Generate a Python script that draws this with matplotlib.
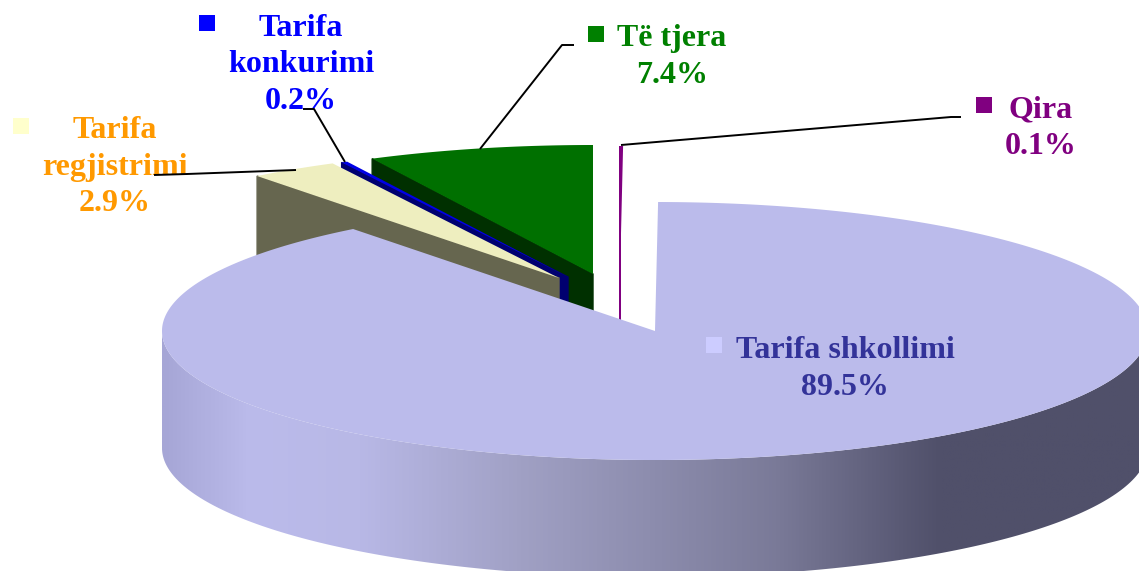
import numpy as np
import matplotlib.pyplot as plt
from matplotlib.colors import LinearSegmentedColormap
from matplotlib.patches import Polygon, Rectangle

# clockwise from the top
categories = ['Tarifa shkollimi', 'Tarifa\nregjistrimi', 'Tarifa\nkonkurimi', 'Të tjera', 'Qira']
shares = [89.5, 2.9, 0.2, 7.4, 0.1]

# picture geometry, in pixels
RX, RY, DEPTH = 493, 129, 117
START = 0.36
apex = [(655, 331), (559, 278), (568, 277), (593, 274), (620, 275)]

top_colors = ['#bbbbeb', '#eeeebf', '#0000e6', '#007000', '#800080']
side_colors = [None, '#66664f', '#000070', '#003000', '#800080']
text_colors = ['#333399', '#ff9900', '#0000ff', '#008000', '#800080']
key_colors = ['#ccccff', '#ffffcc', '#0000ff', '#008000', '#800080']

label_pos = [(845, 369), (115, 167), (301, 65), (672, 57), (1041, 128)]
key_pos = [(706, 337), (13, 118), (199, 15), (588, 26), (976, 97)]
leaders = [None,
           [(296, 170), (187, 174), (154, 175)],
           [(345, 162), (314, 109), (303, 109)],
           [(480, 149), (562, 45), (574, 45)],
           [(621, 145), (951, 117), (961, 117)]]

plt.rcParams['font.family'] = ['Liberation Serif', 'DejaVu Serif']
fig = plt.figure(figsize=(11.39, 5.71), dpi=100)
ax = fig.add_axes([0, 0, 1, 1])
ax.set_xlim(0, 1139)
ax.set_ylim(571, 0)
ax.axis('off')


def rim(center, a0, a1, n=200):
    t = np.radians(np.linspace(a0, a1, n))
    return np.column_stack([center[0] + RX * np.sin(t), center[1] - RY * np.cos(t)])


ends = START + np.cumsum(shares) / sum(shares) * 360
starts = np.r_[START, ends[:-1]]

# exploded small slices, back to front
for i in [3, 4, 2, 1]:
    c = np.array(apex[i], dtype=float)
    outer = rim(c, starts[i], starts[i], 1)[0]
    cut = [c, outer, outer + [0, DEPTH], c + [0, DEPTH]]
    ax.add_patch(Polygon(cut, fc=side_colors[i], ec=side_colors[i], lw=1.0, zorder=2))
    face = np.vstack([c, rim(c, starts[i], ends[i], 40)])
    ax.add_patch(Polygon(face, fc=top_colors[i], ec='none', zorder=2))

# big slice: shaded wall, then top
c = apex[0]
front = rim(c, 90, 270)
wall = np.vstack([front, (front + [0, DEPTH])[::-1]])
wall_patch = Polygon(wall, fc='none', ec='none', zorder=3)
ax.add_patch(wall_patch)
stops = [(162, '#a6a6d6'), (250, '#bbbbeb'), (360, '#b8b8e6'), (522, '#a0a0c4'),
         (777, '#7a7a98'), (940, '#50506a'), (1139, '#50506a')]
span = stops[-1][0] - stops[0][0]
cmap = LinearSegmentedColormap.from_list(
    'wall', [((x - stops[0][0]) / span, col) for x, col in stops])
im = ax.imshow(np.linspace(0, 1, 512)[None, :], cmap=cmap, aspect='auto', zorder=3,
               extent=(stops[0][0], stops[-1][0], 571, 300))
im.set_clip_path(wall_patch)
ax.set_xlim(0, 1139)
ax.set_ylim(571, 0)

top = np.vstack([c, rim(c, starts[0], ends[0], 500)])
ax.add_patch(Polygon(top, fc=top_colors[0], ec='none', zorder=4))

# labels, keys, leader lines
for i, name in enumerate(categories):
    ax.text(label_pos[i][0], label_pos[i][1], f'{name}\n{shares[i]}%', color=text_colors[i],
            fontsize=23, fontweight='bold', ha='center', va='center', linespacing=1.33,
            zorder=5)
    ax.add_patch(Rectangle(key_pos[i], 16, 16, fc=key_colors[i], ec='none', zorder=5))
    if leaders[i]:
        xs, ys = zip(*leaders[i])
        ax.plot(xs, ys, color='black', lw=1.4, zorder=6, solid_capstyle='butt')

plt.savefig('out.png', dpi=100)
